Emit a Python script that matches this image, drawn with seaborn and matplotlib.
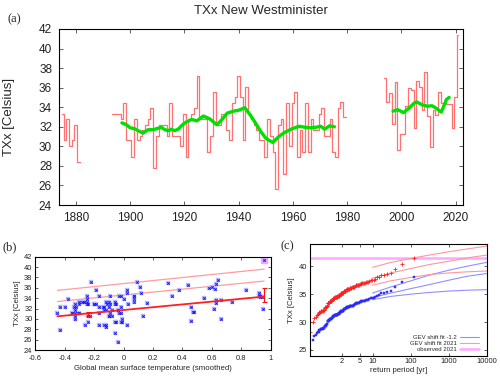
import numpy as np
import pandas as pd
import matplotlib
matplotlib.use('Agg')
import matplotlib.pyplot as plt
from matplotlib.ticker import FixedLocator, NullLocator, FuncFormatter
import seaborn as sns

nan = np.nan

## TXx New Westminster [Celsius], three runs of years with data
years_1 = list(range(1875, 1882))
txx_1 = [33.3, 30.6, 32.8, 30.0, 30.6, 32.2, 28.4]
gmst_1 = [nan, nan, nan, nan, nan, -0.17, -0.12]

years_2 = list(range(1894, 1980))
txx_2 = [33.3, 33.3, 33.3, 32.8, 34.4, 30.6, 30.6, 28.9, 32.8, 30.6,
         31.1, 31.7, 32.2, 32.8, 33.9, 27.8, 31.1, 32.2, 32.2, 32.2,
         31.1, 34.4, 31.1, 31.1, 31.1, 30.0, 33.3, 28.9, 32.8, 33.3,
         33.9, 37.2, 32.8, 32.8, 32.8, 29.4, 31.1, 35.6, 32.2, 32.2,
         33.3, 33.3, 31.7, 30.6, 34.4, 35.0, 37.2, 35.0, 30.6, 36.1,
         33.3, 32.8, 32.2, 31.7, 30.6, 30.6, 28.9, 32.8, 31.1, 29.4,
         25.6, 32.2, 32.8, 27.2, 34.4, 30.0, 34.4, 35.6, 28.9, 31.7,
         29.4, 34.4, 29.4, 32.8, 31.7, 31.7, 33.3, 33.9, 31.1, 31.1,
         32.8, 29.4, 28.9, 33.9, 34.5, 33.0]
# smoothed global mean surface temperature for the same years
gmst_2 = [-0.30, -0.28, -0.25, -0.24, -0.25, -0.24, -0.23, -0.26, -0.30, -0.33,
          -0.35, -0.33, -0.32, -0.33, -0.38, -0.43, -0.45, -0.43, -0.40, -0.34,
          -0.35, -0.17, -0.30, -0.33, -0.31, -0.33, -0.27, -0.17, -0.25, -0.27,
          -0.25, -0.22, -0.20, -0.19, -0.20, -0.24, -0.17, -0.19, -0.13, -0.14,
          -0.10, -0.12, -0.13, -0.10, 0.07, 0.02, 0.09, 0.12, 0.13, 0.11,
          0.07, 0.03, -0.02, -0.04, -0.08, -0.10, -0.12, -0.06, -0.03, -0.06,
          -0.04, -0.10, -0.09, -0.06, -0.03, -0.01, -0.02, 0.02, 0.02, -0.08,
          -0.05, -0.09, -0.01, -0.11, -0.12, -0.04, -0.06, 0.00, -0.02, -0.09,
          -0.05, -0.02, -0.13, 0.07, 0.07, 0.16]

years_3 = list(range(1994, 2022))
txx_3 = [37.0, 34.5, 35.5, 32.3, 36.6, 29.6, 31.3, 31.3, 34.1, 36.0,
         35.8, 31.9, 36.7, 36.1, 33.7, 37.6, 33.1, 29.9, 33.7, 33.2,
         35.6, 34.4, 34.4, 34.3, 34.3, 31.9, 35.0, 41.4]
gmst_3 = [0.30, 0.33, 0.38, 0.46, 0.44, 0.46, 0.47, 0.48, 0.545, 0.58,
          0.62, 0.615, 0.63, 0.60, 0.63, 0.645, 0.63, 0.66, 0.665, 0.74,
          0.835, 0.92, 0.93, 0.93, 0.94, 0.945, 0.92, 0.955]

## running mean (green)
smooth_year = [1897, 1898.7, 1900, 1901.7, 1903, 1904.8, 1906.6, 1908.5, 1910.3, 1911.5,
               1912.8, 1914, 1915.2, 1916.4, 1917.7, 1919.3, 1920.5, 1922.7, 1924.6, 1927,
               1929.4, 1932, 1933.9, 1935.8, 1938.2, 1940.1, 1942.3, 1944.3, 1946.3, 1948.2,
               1950.1, 1952.6, 1954.8, 1956.8, 1959.7, 1962.2, 1964.5, 1966.5, 1968.5, 1970.3,
               1971.7, 1973.5, 1975.3, nan,
               1996.9, 1998.6, 2000.8, 2002.8, 2004.6, 2005.6, 2007.6, 2009.6, 2011.3, 2012.8,
               2014.7, 2015.6, 2016.6, 2017.6]
smooth_val = [32.4, 32.2, 31.9, 31.8, 31.6, 31.35, 31.7, 31.7, 31.85, 31.95,
              31.7, 31.6, 31.75, 31.6, 31.75, 32.2, 32.45, 32.75, 32.6, 33.1,
              32.8, 32.2, 32.75, 33.4, 33.6, 33.7, 33.95, 33.2, 32.35, 31.5,
              30.8, 30.4, 31.0, 31.4, 31.8, 32.05, 31.95, 31.9, 31.95, 32.05,
              31.75, 32.1, 32.0, nan,
              33.6, 33.75, 33.45, 33.9, 34.4, 34.55, 34.25, 34.1, 34.15, 33.9,
              33.5, 34.1, 34.8, 35.0]

## panel b: fitted lines at the two ends of the gmst range (mean, 6 yr, 40 yr)
fit_left = [30.5, 33.35, 35.5]
fit_right = [34.3, 37.3, 39.6]
# uncertainty of the mean in the -1.2 climate and in 2021
eb_mid = [30.95, 34.3]
eb_low = [30.5, 33.2]
eb_high = [31.4, 36.0]
shift = -1.2

## panel c: GEV return levels [Celsius] against return period [yr]
rp_fit = [10, 30, 100, 300, 1000, 3000, 10000]
red_mid = [37.9, 38.8, 39.6, 40.3, 40.9, 41.5, 42.0]
red_up = [39.8, 40.7, 41.4, 42.0, 42.6, 43.1, 43.6]
red_low = [36.6, 37.4, 38.0, 38.5, 38.8, 39.0, 39.15]
blue_mid = [34.4, 35.2, 36.0, 36.7, 37.5, 38.2, 38.7]
blue_up = [35.2, 36.3, 37.4, 38.4, 39.3, 40.0, 40.7]
blue_low = [34.0, 34.6, 35.0, 35.3, 35.55, 35.7, 35.8]
obs_2021 = 41.4

df = pd.DataFrame({'year': years_1 + years_2 + years_3,
                   'txx': txx_1 + txx_2 + txx_3,
                   'gmst': gmst_1 + gmst_2 + gmst_3})
full = df.set_index('year').reindex(range(1875, 2022))
pts = df.dropna()

sns.set_style('ticks')
plt.rcParams['font.family'] = ['Liberation Sans', 'DejaVu Sans']
plt.rcParams['axes.linewidth'] = 0.8

fig = plt.figure(figsize=(5, 3.79), dpi=100)
ax_a = fig.add_axes([0.118, 0.4591, 0.808, 0.4644])
ax_b = fig.add_axes([0.0706, 0.0765, 0.4708, 0.2462])
ax_c = fig.add_axes([0.62, 0.062, 0.3534, 0.2929])

for ax in (ax_a, ax_b, ax_c):
    for s in ax.spines.values():
        s.set_color('black')
        s.set_linewidth(0.8)

# ---- (a) time series
ax_a.plot(full.index, full['txx'], drawstyle='steps-mid', color='#ff7272', lw=0.9)
ax_a.plot(smooth_year, smooth_val, color='#00e000', lw=2.4, solid_capstyle='round')
ax_a.set_xlim(1873.8, 2022.7)
ax_a.set_ylim(24, 42)
ax_a.set_xticks(range(1880, 2021, 20))
ax_a.set_yticks(range(24, 43, 2))
ax_a.tick_params(direction='in', top=True, right=True, length=3, width=0.5,
                 labelsize=8.5, pad=5, colors='#222222')
ax_a.set_ylabel('TXx [Celsius]', fontsize=9.5)
ax_a.yaxis.set_label_coords(-0.11, 0.5)
ax_a.set_title('TXx New Westminister', fontsize=9.5, pad=11)

# ---- (b) scatter against smoothed GMST
sns.scatterplot(data=pts, x='gmst', y='txx', marker='s', s=7, color='#babcff',
                edgecolor='#a4a6ff', linewidth=0.2, ax=ax_b, legend=False, zorder=2)
last = pts.iloc[-1]
ax_b.scatter([last['gmst']], [last['txx']], marker='s', s=16, color='#e8a8ff', zorder=2)
ax_b.scatter(pts['gmst'], pts['txx'], marker='x', s=3, color='#1414ff', linewidths=0.7, zorder=3)
gx = [pts['gmst'].min(), pts['gmst'].max()]
for i, (lo, hi) in enumerate(zip(fit_left, fit_right)):
    if i == 0:
        ax_b.plot(gx, [lo, hi], color='#ff2020', lw=1.3, zorder=4)
    else:
        ax_b.plot(gx, [lo, hi], color='#ff9c9c', lw=0.9, zorder=1)
g2021 = last['gmst']
eb_x = [g2021 + shift, g2021]
ax_b.errorbar(eb_x, eb_mid,
              yerr=[np.subtract(eb_mid, eb_low), np.subtract(eb_high, eb_mid)],
              fmt='none', ecolor='#ff1010', elinewidth=0.9, capsize=1.8, capthick=0.8, zorder=5)
ax_b.set_xlim(-0.6, 1.0)
ax_b.set_ylim(24, 42)
ax_b.set_xticks(np.arange(-0.6, 1.01, 0.2))
ax_b.set_yticks(range(24, 43, 2))
ax_b.xaxis.set_major_formatter(FuncFormatter(lambda v, p: '%g' % round(v, 1)))
ax_b.tick_params(direction='in', top=True, right=True, length=2, width=0.5,
                 labelsize=5.4, pad=2, colors='#222222')
ax_b.tick_params(axis='x', pad=3.5)
ax_b.set_xlabel('Global mean surface temperature (smoothed)', fontsize=5.6, labelpad=2.5)
ax_b.set_ylabel('TXx [Celsius]', fontsize=5.6, labelpad=2)

# ---- (c) return time plot
alpha = (fit_right[0] - fit_left[0]) / (gx[1] - gx[0])
red_pts = np.sort(pts['txx'] + alpha * (g2021 - pts['gmst']))[::-1]
blue_pts = red_pts + alpha * shift
n = len(red_pts)
rp = (n + 1) / np.arange(1, n + 1)


def fwd(t):
    t = np.clip(np.asarray(t, dtype=float), 1.0000001, None)
    return -np.log(-np.log1p(-1.0 / t))


def inv(g):
    g = np.asarray(g, dtype=float)
    return 1.0 / (-np.expm1(-np.exp(-g)))


ax_c.set_xscale('function', functions=(fwd, inv))
for v in (blue_up, blue_low):
    ax_c.plot(rp_fit, v, color='#9090ff', lw=0.8)
for v in (red_up, red_low):
    ax_c.plot(rp_fit, v, color='#ff9898', lw=0.8)
hb, = ax_c.plot(rp_fit, blue_mid, color='#9090ff', lw=0.8, label='GEV shift fit -1.2')
hr, = ax_c.plot(rp_fit, red_mid, color='#ff9898', lw=0.8, label='GEV shift fit 2021')
ho = ax_c.axhline(obs_2021, color='#ffa8ff', lw=1.8, label='observed 2021', zorder=1)
ax_c.plot(rp, red_pts, ls='none', marker='+', ms=2.6, mew=0.6, color='#ff2020')
ax_c.plot(rp, blue_pts, ls='none', marker='s', ms=1.5, mew=0.3, color='#2020ff',
          mfc='#3a3aff')
ax_c.set_xlim(rp.min(), 10000)
ax_c.set_ylim(24, 43.9)
ax_c.xaxis.set_major_locator(FixedLocator([2, 5, 10, 100, 1000, 10000]))
ax_c.xaxis.set_minor_locator(NullLocator())
ax_c.xaxis.set_major_formatter(FuncFormatter(lambda v, p: '%d' % round(v)))
ax_c.set_yticks([25, 30, 35, 40])
ax_c.tick_params(direction='in', top=True, right=True, length=2, width=0.5,
                 labelsize=5.4, pad=2, colors='#222222')
ax_c.set_xlabel('return period [yr]', fontsize=5.6, labelpad=1.5)
ax_c.set_ylabel('TXx [Celsius]', fontsize=5.6, labelpad=3)
ax_c.legend(handles=[hb, hr, ho], loc='lower right', bbox_to_anchor=(0.975, 0.005),
            frameon=False, markerfirst=False, fontsize=4.3, handlelength=3.2,
            labelspacing=0.15, borderpad=0, handletextpad=0.5)

serif = ['Liberation Serif', 'DejaVu Serif']
fig.text(0.028, 0.95, '(a)', fontsize=9, family=serif, va='center', ha='center')
fig.text(0.02, 0.347, '(b)', fontsize=9, family=serif, va='center', ha='center')
fig.text(0.574, 0.35, '(c)', fontsize=9, family=serif, va='center', ha='center')

fig.savefig('out.png', dpi=100)
